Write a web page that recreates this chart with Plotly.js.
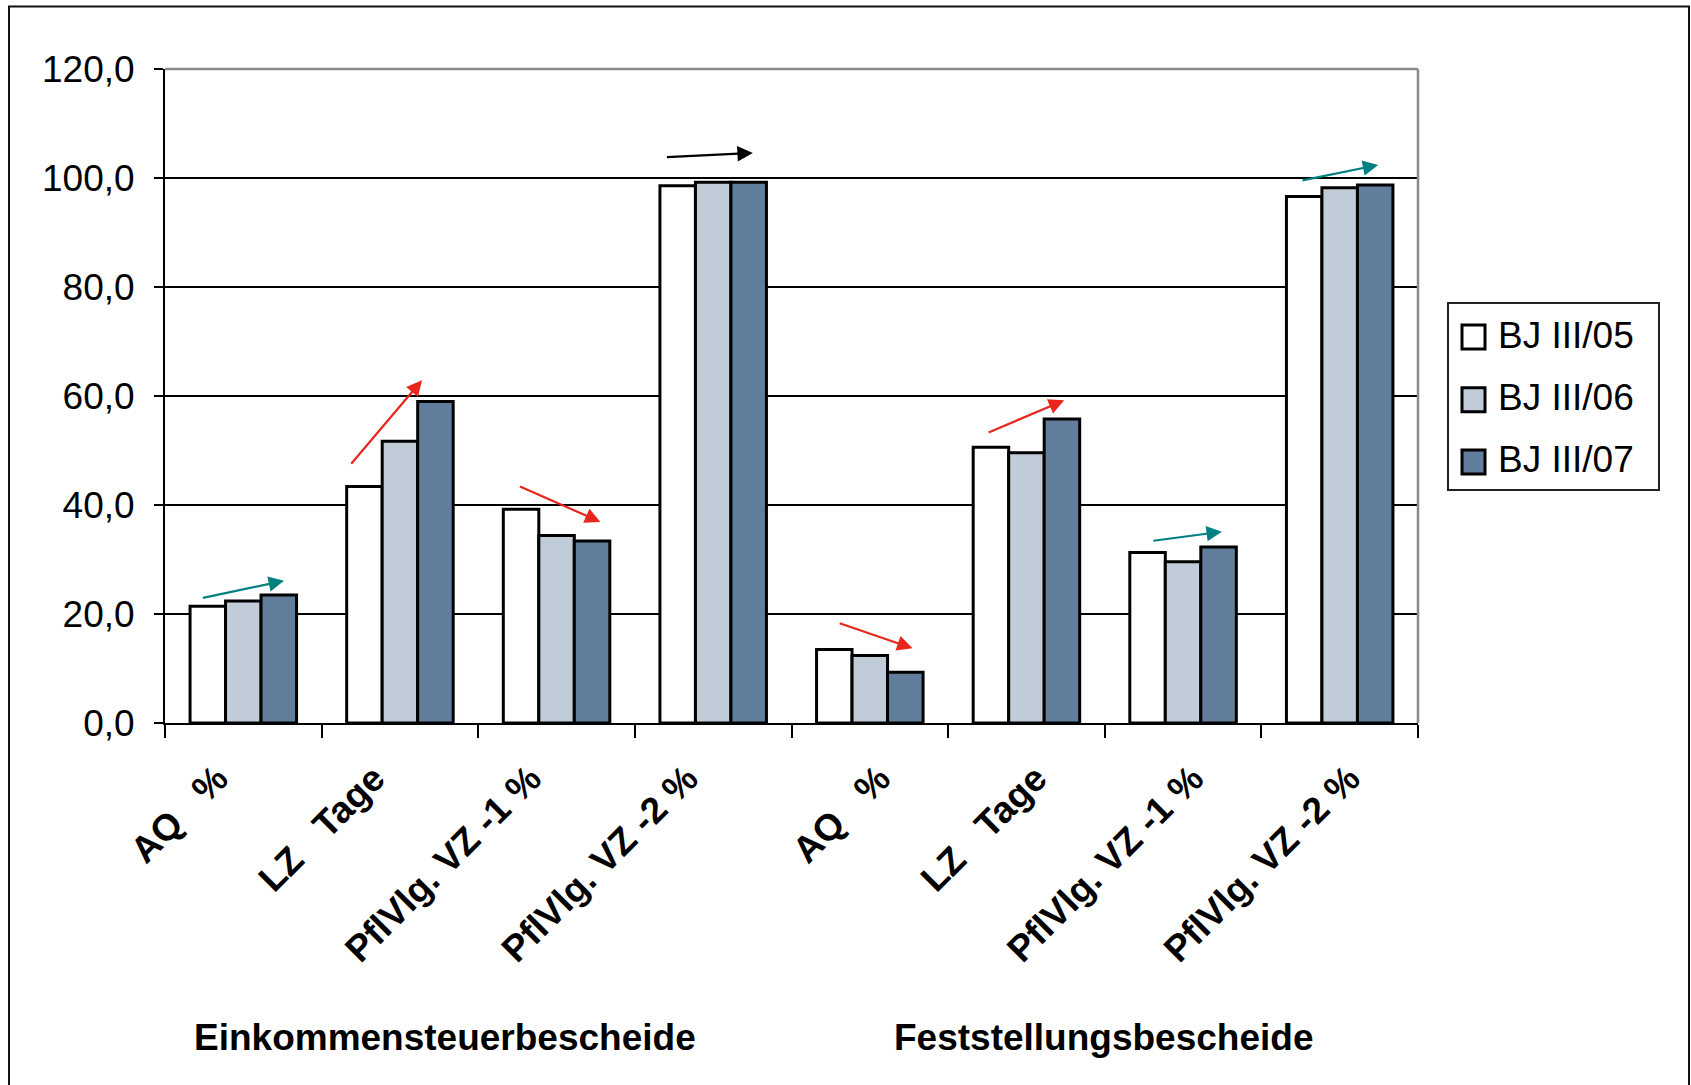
<!DOCTYPE html>
<html>
<head>
<meta charset="utf-8">
<script src="https://cdn.plot.ly/plotly-3.0.1.min.js"></script>
<style>
  html, body { margin: 0; padding: 0; background: #ffffff; }
  #chart { width: 1691px; height: 1085px; }
</style>
</head>
<body>
<div id="chart"></div>
<script>
// ---- data ----
const categories = ['AQ\u00a0\u00a0\u00a0%', 'LZ\u00a0\u00a0\u00a0Tage', 'PflVlg. VZ -1 %', 'PflVlg. VZ -2 %',
                    'AQ\u00a0\u00a0\u00a0%', 'LZ\u00a0\u00a0\u00a0Tage', 'PflVlg. VZ -1 %', 'PflVlg. VZ -2 %'];
const seriesNames = ['BJ III/05', 'BJ III/06', 'BJ III/07'];
const bj05 = [21.4, 43.4, 39.2, 98.6, 13.5, 50.6, 31.3, 96.6];
const bj06 = [22.4, 51.7, 34.4, 99.2, 12.4, 49.6, 29.6, 98.2];
const bj07 = [23.5, 59.0, 33.4, 99.2, 9.3, 55.8, 32.3, 98.7];
const groupLabels = ['Einkommensteuerbescheide', 'Feststellungsbescheide'];
const yTicks = [0, 20, 40, 60, 80, 100, 120];

// ---- styling ----
const seriesColors = ['#ffffff', '#c0ccd8', '#617f9d'];
const TEAL = '#008080', RED = '#e8261c', BLACK = '#000000';
// trend arrows (category-index / value coordinates)
const trendArrows = [
  {from: [-0.267, 22.9], to: [0.260, 26.1], color: TEAL},
  {from: [0.681, 47.3], to: [1.141, 62.9], color: RED},
  {from: [1.757, 43.5], to: [2.280, 36.9], color: RED},
  {from: [2.695, 103.8], to: [3.253, 104.6], color: BLACK},
  {from: [3.798, 18.4], to: [4.273, 13.7], color: RED},
  {from: [4.749, 53.2], to: [5.241, 59.2], color: RED},
  {from: [5.801, 33.4], to: [6.248, 35.1], color: TEAL},
  {from: [6.753, 99.5], to: [7.246, 102.4], color: TEAL}
];

const FONT = 'Liberation Sans, Arial, sans-serif';
const W = 1691, H = 1085;
const PL = 165, PR = 1418, PT = 69, PB = 723;
const px = x => (x - PL) / (PR - PL);
const py = y => (PB - y) / (PB - PT);

const xIdx = categories.map((c, i) => i);
const series = [bj05, bj06, bj07];
// label anchor positions: the second block of labels sits a bit further right in the original
const labelPos = xIdx.map(i => i + (i >= 4 ? 0.227 : 0));

const traces = series.map((vals, k) => ({
  type: 'bar',
  name: seriesNames[k],
  x: xIdx,
  y: vals,
  marker: { color: seriesColors[k], line: { color: '#000000', width: 3 } },
  showlegend: false,
  hoverinfo: 'x+y+name'
}));

const annotations = [];
trendArrows.forEach(a => {
  annotations.push({
    xref: 'x', yref: 'y', axref: 'x', ayref: 'y',
    x: a.to[0], y: a.to[1], ax: a.from[0], ay: a.from[1],
    text: '', showarrow: true, arrowhead: 2, arrowsize: 1.4, arrowwidth: 2.2,
    arrowcolor: a.color, standoff: 0, startstandoff: 0
  });
});

// group labels under the axis
const groupCenters = [445, 1103];
groupLabels.forEach((g, i) => {
  annotations.push({
    xref: 'paper', yref: 'paper', x: px(groupCenters[i]), y: py(1037),
    xanchor: 'center', yanchor: 'middle', showarrow: false, text: '<b>' + g + '</b>',
    font: { family: FONT, size: 37, color: '#000' }
  });
});

// custom legend
const shapes = [];
const legendRows = [337, 399.7, 462];
shapes.push({ type: 'rect', xref: 'paper', yref: 'paper',
  x0: px(1448), x1: px(1659), y0: py(490), y1: py(303),
  line: { color: '#222', width: 2 }, fillcolor: 'rgba(0,0,0,0)' });
seriesNames.forEach((n, k) => {
  const cy = legendRows[k];
  shapes.push({ type: 'rect', xref: 'paper', yref: 'paper',
    x0: px(1462), x1: px(1485), y0: py(cy + 12), y1: py(cy - 12),
    line: { color: '#000', width: 3 }, fillcolor: seriesColors[k] });
  annotations.push({ xref: 'paper', yref: 'paper', x: px(1496), y: py(cy - 2),
    xanchor: 'left', yanchor: 'middle', showarrow: false, text: n,
    font: { family: FONT, size: 37, color: '#000' } });
});

// gray top / right frame of the plot area
shapes.push({ type: 'line', xref: 'paper', yref: 'paper', x0: 0, x1: 1, y0: 1, y1: 1,
  line: { color: '#8a8a8a', width: 2.5 } });
shapes.push({ type: 'line', xref: 'paper', yref: 'paper', x0: 1, x1: 1, y0: 0, y1: 1,
  line: { color: '#8a8a8a', width: 2.5 } });
// outer chart border
shapes.push({ type: 'rect', xref: 'paper', yref: 'paper',
  x0: px(9), x1: px(1689), y0: py(H + 5), y1: py(6.5),
  line: { color: '#111', width: 2 }, fillcolor: 'rgba(0,0,0,0)' });

const boundaries = [];
for (let i = 0; i <= categories.length; i++) boundaries.push(i - 0.5);

const layout = {
  width: W, height: H,
  margin: { l: PL, r: W - PR, t: PT, b: H - PB, pad: 0 },
  paper_bgcolor: '#ffffff', plot_bgcolor: '#ffffff',
  separators: ',.',
  font: { family: FONT, color: '#000' },
  barmode: 'group', bargap: 0.32, bargroupgap: 0,
  showlegend: false,
  xaxis: {
    type: 'linear', range: [-0.5, categories.length - 0.5],
    tickmode: 'array', tickvals: labelPos, ticktext: categories.map(c => '<b>' + c + '</b>'),
    tickangle: -45, ticks: '', showgrid: false, zeroline: false,
    showline: true, linecolor: '#000', linewidth: 2,
    tickfont: { family: FONT, size: 37, color: '#000' },
    ticklabelstandoff: 17, ticklabelshift: -26,
    minor: { tickmode: 'array', tickvals: boundaries, ticks: 'outside', ticklen: 13, tickwidth: 2, tickcolor: '#000', showgrid: false },
    fixedrange: true
  },
  yaxis: {
    range: [0, 120], tickmode: 'array', tickvals: yTicks, tickformat: '.1f',
    ticks: 'outside', ticklen: 9, tickwidth: 2, tickcolor: '#000',
    showgrid: true, gridcolor: '#000', gridwidth: 1.5, zeroline: false,
    showline: true, linecolor: '#000', linewidth: 2,
    tickfont: { family: FONT, size: 37, color: '#000' },
    ticklabelstandoff: 12,
    fixedrange: true
  },
  annotations: annotations,
  shapes: shapes
};

Plotly.newPlot('chart', traces, layout, { displayModeBar: false, staticPlot: true });
</script>
</body>
</html>
